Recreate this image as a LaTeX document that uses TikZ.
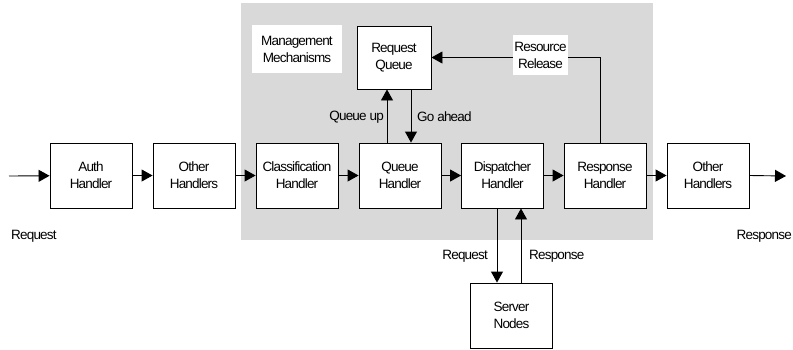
\documentclass[tikz,border=0pt]{standalone}
\usepackage{fontspec}
\setmainfont{Liberation Sans}[LetterSpace=-6]
\usetikzlibrary{arrows.meta,calc}
\begin{document}
\begin{tikzpicture}[x=1pt,y=-1pt,
  every node/.style={font=\fontsize{13.5}{17}\selectfont, align=center},
  box/.style={draw, line width=0.9pt, fill=white, minimum width=82pt, minimum height=65pt, inner sep=0pt},
  conn/.style={line width=0.9pt, -{Triangle[length=11pt,width=12pt]}},
  lbl/.style={inner sep=0pt},
  wlbl/.style={fill=white, inner sep=0pt}]
\useasboundingbox (0,0) rectangle (793,349);
\fill[black!15] (241,3) rectangle (653,240);
\node[wlbl, minimum width=90pt, minimum height=48pt] (mm) at (297,49) {Management\\Mechanisms};

\node[box] (auth) at (91,175.5) {Auth\\Handler};
\node[box] (oh1) at (194,175.5) {Other\\Handlers};
\node[box] (cls) at (297,175.5) {Classification\\Handler};
\node[box] (qh) at (400,175.5) {Queue\\Handler};
\node[box] (dh) at (502.5,175.5) {Dispatcher\\Handler};
\node[box] (rh) at (605,175.5) {Response\\Handler};
\node[box] (oh2) at (708,175.5) {Other\\Handlers};
\node[box, minimum width=74pt, minimum height=63pt] (rq) at (394,57.5) {Request\\Queue};
\node[box] (sn) at (511.5,315.5) {Server\\Nodes};

\coordinate (in) at (9,176);
\coordinate (out) at (786,176);

\draw[conn] (in) -- (auth);
\draw[conn] (auth) -- (oh1);
\draw[conn] (oh1) -- (cls);
\draw[conn] (cls) -- (qh);
\draw[conn] (qh) -- (dh);
\draw[conn] (dh) -- (rh);
\draw[conn] (rh) -- (oh2);
\draw[conn] (oh2.east) -- (out);

\draw[conn] ([xshift=-13pt]qh.north) -- ([xshift=-13pt]qh.north |- rq.south);
\draw[conn] ([xshift=11pt]qh.north |- rq.south) -- ([xshift=11pt]qh.north);

\draw[conn] ([xshift=-14.5pt]sn.north |- dh.south) -- ([xshift=-14.5pt]sn.north);
\draw[conn] ([xshift=9.5pt]sn.north) -- ([xshift=9.5pt]sn.north |- dh.south);

\draw[conn] ([xshift=-5pt]rh.north) |- (rq.east);

\node[wlbl, minimum width=55pt, minimum height=40pt] (rr) at (540.5,55) {Resource\\Release};

\node[lbl, anchor=east] (qu) at (384,117) {Queue up};
\node[lbl, anchor=west] (ga) at (417,117) {Go ahead};
\node[lbl, anchor=east] (req2) at (488,256) {Request};
\node[lbl, anchor=west] (resp2) at (529,256) {Response};
\node[lbl, anchor=west] (req1) at (11,236) {Request};
\node[lbl, anchor=east] (resp1) at (792,236) {Response};
\end{tikzpicture}
\end{document}
